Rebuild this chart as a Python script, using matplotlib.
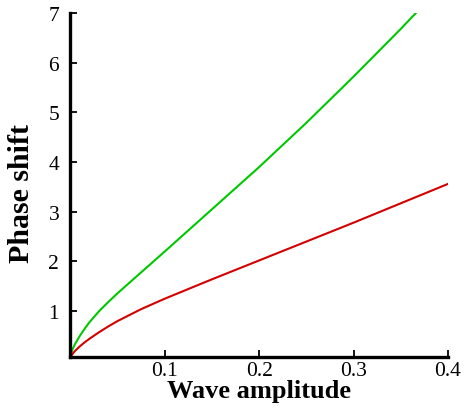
import matplotlib
matplotlib.use("Agg")
import matplotlib.pyplot as plt

# values
amp_red = [0.0, 0.002, 0.005, 0.01, 0.015, 0.02, 0.03, 0.04, 0.05, 0.075, 0.1,
           0.15, 0.2, 0.25, 0.3, 0.35, 0.4]
shift_red = [0.07, 0.13, 0.20, 0.29, 0.37, 0.44, 0.57, 0.69, 0.80, 1.04, 1.25,
             1.64, 2.02, 2.40, 2.78, 3.17, 3.56]

amp_green = [0.0, 0.002, 0.005, 0.01, 0.015, 0.02, 0.03, 0.04, 0.05, 0.075, 0.1,
             0.15, 0.2, 0.25, 0.3, 0.35, 0.366]
shift_green = [0.07, 0.22, 0.34, 0.50, 0.64, 0.77, 0.99, 1.18, 1.36, 1.78, 2.20,
               3.05, 3.90, 4.79, 5.72, 6.68, 7.00]

xticks = [0.1, 0.2, 0.3, 0.4]
xticklabels = ["0.1", "0.2", "0.3", "0.4"]
yticks = [1, 2, 3, 4, 5, 6, 7]

plt.rcParams['font.family'] = ['Liberation Serif', 'DejaVu Serif']

fig = plt.figure(figsize=(4.69, 4.14), dpi=100)
ax = fig.add_axes([0.150, 0.1345, 0.805, 0.8315])

ax.plot(amp_green, shift_green, color='#00c800', lw=1.5)
ax.plot(amp_red, shift_red, color='#d40000', lw=1.5)

ax.set_xlim(0, 0.4)
ax.set_ylim(0.07, 7)
ax.set_xticks(xticks)
ax.set_xticklabels(xticklabels)
ax.set_yticks(yticks)

for s in ['top', 'right']:
    ax.spines[s].set_visible(False)
for s in ['left', 'bottom']:
    ax.spines[s].set_linewidth(2.4)

ax.tick_params(axis='both', direction='in', length=5, width=1.3, labelsize=15.5)
ax.tick_params(axis='x', pad=3)
ax.tick_params(axis='y', pad=8)

ax.set_xlabel('Wave amplitude', fontsize=19, fontweight='bold', labelpad=-1)
ax.set_ylabel('Phase shift', fontsize=21.5, fontweight='bold')
ax.yaxis.set_label_coords(-0.093, 0.48)

fig.savefig('out.png', dpi=100)
